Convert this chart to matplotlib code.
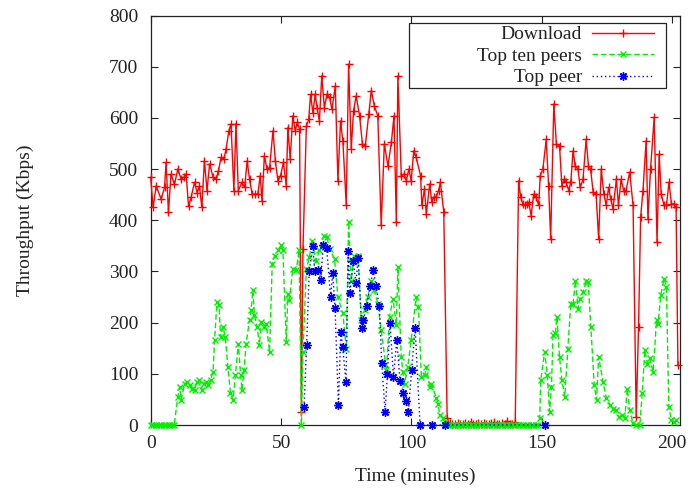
import matplotlib
matplotlib.use("Agg")
import matplotlib.pyplot as plt
from matplotlib.patches import Rectangle

# ---- Data ----
download_t = [0.0, 0.9, 2.1, 4.0, 5.3, 5.9, 6.8, 7.8, 9.1, 10.4, 11.7, 12.7, 13.6, 14.5, 15.5,
              16.8, 17.8, 18.7, 19.6, 20.6, 21.6, 22.6, 23.9, 25.1, 26.0, 27.0, 28.1, 28.9, 30.0,
              30.8, 31.9, 32.7, 33.6, 35.0, 36.0, 37.0, 37.9, 38.9, 40.1, 41.1, 42.0, 42.7, 43.6,
              44.6, 45.6, 46.9, 47.8, 48.8, 49.8, 50.9, 52.0, 52.6, 53.5, 54.5, 55.4, 56.2, 57.1,
              57.8, 58.4, 59.7, 60.6, 61.3, 62.2, 63.1, 63.8, 64.7, 65.6, 66.6, 67.6, 68.6, 69.5,
              70.8, 71.8, 72.8, 73.7, 75.0, 75.9, 76.9, 77.8, 78.8, 80.1, 81.2, 82.3, 83.6, 84.6,
              85.8, 87.1, 88.4, 89.6, 91.0, 92.3, 93.3, 94.2, 94.8, 96.1, 97.1, 98.0, 99.0, 99.9,
              100.9, 101.8, 103.5, 104.0, 105.0, 105.7, 107.0, 107.8, 108.6, 109.5, 110.4, 111.1,
              112.4, 113.7, 114.7, 115.7, 116.7, 117.7, 118.7, 119.7, 120.7, 121.7, 122.7, 123.7,
              124.7, 125.7, 126.7, 127.7, 128.7, 129.7, 130.7, 131.7, 132.7, 133.7, 134.7, 135.7,
              136.7, 137.7, 138.7, 139.8, 141.1, 141.9, 142.7, 143.6, 144.4, 145.0, 145.9, 146.9,
              147.8, 148.8, 149.4, 150.4, 151.7, 152.6, 153.4, 154.6, 155.6, 156.8, 157.7, 158.5,
              159.4, 160.3, 161.1, 162.0, 162.8, 163.9, 164.7, 165.8, 167.0, 167.9, 168.7, 169.7,
              170.8, 171.8, 172.8, 173.8, 174.7, 175.6, 176.4, 177.3, 178.6, 179.4, 180.4, 181.4,
              182.3, 183.7, 185.0, 186.2, 187.1, 187.9, 188.8, 190.0, 190.7, 191.7, 193.1, 194.2,
              195.0, 195.8, 196.9, 197.8, 198.8, 199.7, 200.7, 201.5, 202.2]
download_v = [484, 425, 467, 441, 464, 513, 416, 490, 470, 500, 480, 484, 490, 428, 445,
              474, 454, 467, 425, 516, 458, 510, 484, 480, 497, 523, 520, 539, 575,
              588, 458, 589, 458, 474, 464, 516, 480, 451, 451, 451, 487, 438, 526,
              500, 503, 575, 516, 477, 487, 513, 467, 581, 520, 604, 575, 591, 578,
              26, 344, 584, 597, 646, 610, 646, 620, 594, 682, 620, 646, 640, 617,
              662, 477, 594, 555, 429, 705, 539, 614, 643, 604, 549, 545, 607, 653,
              623, 604, 390, 549, 506, 552, 604, 396, 682, 487, 490, 477, 500, 477,
              536, 523, 487, 429, 461, 412, 471, 435, 445, 445, 458, 474,
              416, 13, 3, 1, 2, 4, 1, 2, 3, 1, 6, 2,
              1, 3, 2, 4, 1, 2, 3, 5, 2, 1, 3, 2,
              8, 2, 1, 5, 477, 445, 432, 429, 432, 435, 409, 451,
              445, 429, 487, 500, 558, 467, 364, 627, 549, 545, 467, 480,
              474, 458, 474, 536, 506, 500, 464, 480, 558, 506, 500, 455,
              451, 364, 500, 451, 429, 464, 442, 422, 480, 429, 480, 458,
              458, 494, 429, 16, 192, 406, 458, 555, 403, 500, 601, 357,
              529, 451, 429, 429, 474, 432, 432, 425, 117]

topten_t = [0, 1, 2, 3, 4, 5, 6, 7, 8, 9, 10.4, 11.1, 11.7, 13.0, 14.0, 14.9, 15.9, 16.8,
            17.8, 18.7, 19.6, 20.4, 21.2, 21.9, 23.0, 23.9, 24.5, 25.4, 26.2, 26.8, 27.7,
            28.6, 29.6, 30.6, 31.6, 32.5, 33.6, 34.5, 35.0, 35.8, 36.6, 37.9, 38.5, 39.2,
            39.8, 40.8, 41.7, 42.4, 43.4, 44.3, 45.6, 46.6, 47.5, 48.8, 50.1, 50.7, 52.0,
            52.6, 53.2, 54.5, 55.8, 56.9, 57.8, 58.4, 59.7, 60.9, 61.8, 63.5, 64.7, 66.4,
            67.6, 68.6, 70.5, 71.8, 73.7, 75.0, 75.9, 76.9, 78.1, 79.5, 80.8, 82.0, 83.3,
            84.6, 85.8, 87.1, 88.4, 90.4, 91.6, 92.9, 94.2, 94.8, 96.1, 96.7, 97.4, 98.6,
            99.9, 101.8, 102.7, 103.8, 105.1, 105.7, 107.0, 107.6, 109.6, 110.2, 110.9,
            112.1, 112.8, 113.8, 114.8, 115.8, 116.8, 117.8, 118.8, 119.8, 120.8, 121.8,
            122.8, 123.8, 124.8, 125.8, 126.8, 127.8, 128.8, 129.8, 130.8, 131.8, 132.8,
            133.8, 134.8, 135.8, 136.8, 137.8, 138.8, 139.8, 140.8, 141.8, 142.8, 143.8,
            144.8, 145.8, 146.8, 147.8, 148.5, 149.2, 149.6, 151.1, 152.1, 153.0, 153.7,
            154.3, 155.2, 155.8, 156.8, 157.7, 158.8, 160.0, 161.1, 162.0, 162.9, 163.9,
            164.6, 165.8, 167.1, 167.8, 168.8, 170.1, 171.0, 171.8, 173.5, 174.8, 176.1,
            177.3, 178.6, 179.5, 180.8, 181.8, 182.8, 183.7, 185.0, 186.3, 187.6, 188.5,
            189.5, 190.5, 191.4, 192.7, 194.0, 194.6, 195.6, 196.9, 197.8, 198.7, 199.7,
            200.7, 201.6]
topten_v = [0, 0, 0, 0, 0, 0, 0, 0, 0, 0, 55, 75, 49, 81, 84, 78, 71, 68,
            84, 88, 68, 81, 84, 78, 88, 104, 166, 240, 234, 172, 192,
            172, 114, 62, 49, 97, 159, 97, 68, 107, 159, 205, 224, 263,
            214, 192, 156, 201, 192, 198, 143, 315, 331, 341, 351, 341, 162,
            256, 244, 305, 302, 341, 0, 143, 305, 328, 360, 321, 341, 370,
            367, 344, 325, 250, 218, 149, 396, 282, 331, 331, 205, 224, 250,
            282, 263, 237, 185, 107, 211, 247, 195, 308, 133, 104, 81, 114,
            166, 250, 231, 94, 97, 114, 75, 81, 52, 42, 19,
            13, 6, 0, 0, 0, 0, 0, 0, 0, 0, 0,
            0, 0, 0, 0, 0, 0, 0, 0, 0, 0, 0,
            0, 0, 0, 0, 0, 0, 0, 0, 0, 0, 0,
            0, 0, 0, 0, 0, 13, 88, 143, 97, 26, 75,
            175, 179, 211, 133, 88, 55, 149, 237, 237, 282, 227,
            247, 260, 282, 279, 192, 78, 49, 133, 84, 52, 39,
            32, 29, 16, 19, 13, 71, 29, 3, 0, 0, 62,
            146, 120, 130, 104, 205, 198, 253, 286, 269, 36, 10,
            6, 10]

toppeer_t = [58.8, 59.8, 60.8, 62.1, 63.0, 64.3, 65.2, 66.2, 67.5, 69.0, 69.8, 70.7, 72.0,
             72.9, 73.6, 74.9, 75.8, 76.4, 77.7, 78.7, 79.6, 80.9, 81.6, 82.9, 84.1, 85.4,
             86.4, 87.7, 88.6, 89.9, 90.8, 91.8, 93.1, 94.4, 95.6, 96.9, 97.9, 98.8, 100.1,
             101.4, 103.3, 107.8, 112.9, 151.4]
toppeer_v = [35, 156, 300, 349, 300, 303, 284, 351, 345, 250, 297, 229, 39,
             182, 153, 84, 339, 258, 320, 278, 326, 190, 206, 232, 271, 303,
             271, 232, 121, 26, 100, 200, 93, 167, 86, 63, 47, 26, 108,
             190, 0, 0, 0, 0]

x_ticks = [0, 50, 100, 150, 200]
y_ticks = [0, 100, 200, 300, 400, 500, 600, 700, 800]
labels = ["Download", "Top ten peers", "Top peer"]

# ---- Figure ----
plt.rcParams['font.family'] = ['Liberation Serif', 'DejaVu Serif']
W, H = 691, 493
fig = plt.figure(figsize=(W / 100, H / 100), dpi=100)
left, right, top, bottom = 150.7, 680, 15.5, 425
ax = fig.add_axes([left / W, 1 - bottom / H, (right - left) / W, (bottom - top) / H])

ax.plot(download_t, download_v, color='#ff0000', lw=1.0, marker='+', ms=6, mew=1.0,
        label=labels[0], clip_on=False, zorder=3)
ax.plot(topten_t, topten_v, color='#00ee00', lw=1.0, ls=(0, (4, 2)), marker='x', ms=4.5,
        mew=1.0, label=labels[1], clip_on=False, zorder=4)
ax.plot(toppeer_t, toppeer_v, color='#0000ff', lw=1.0, ls=(0, (1, 2)), marker=(8, 2, 0),
        ms=6, mew=1.0, label=labels[2], clip_on=False, zorder=5)

ax.set_xlim(0, 203)
ax.set_ylim(0, 800)
ax.set_xticks(x_ticks)
ax.set_yticks(y_ticks)
ax.tick_params(axis='both', direction='in', length=5, width=0.8, top=True, right=True,
               labelsize=14, colors='#222222')
ax.tick_params(axis='x', pad=7)
ax.tick_params(axis='y', pad=9)
for s in ax.spines.values():
    s.set_linewidth(0.9)
    s.set_color('#222222')

ax.set_xlabel('Time (minutes)', fontsize=14, color='#222222')
ax.set_ylabel('Throughput (Kbps)', fontsize=14, color='#222222')
ax.xaxis.set_label_coords(0.5, -0.105)
ax.yaxis.set_label_coords(-0.22, 0.5)

# legend box (gnuplot style: wide frame, right-aligned text, sample on the right)
box = Rectangle((409 / W, 1 - 87.7 / H), (666 - 409) / W, (87.7 - 22.7) / H,
                transform=fig.transFigure, facecolor='white', edgecolor='#222222',
                linewidth=0.9, zorder=6, clip_on=False)
ax.add_patch(box)

leg = ax.legend(loc='upper right', bbox_to_anchor=(659 / W, 1 - 21.0 / H),
                bbox_transform=fig.transFigure, borderaxespad=0, markerfirst=False,
                frameon=False, fontsize=14, handlelength=3.2, handletextpad=0.5,
                labelspacing=0.2, borderpad=0.25, numpoints=1)
leg.set_zorder(7)
for t in leg.get_texts():
    t.set_color('#222222')

fig.savefig('out.png', dpi=100)
